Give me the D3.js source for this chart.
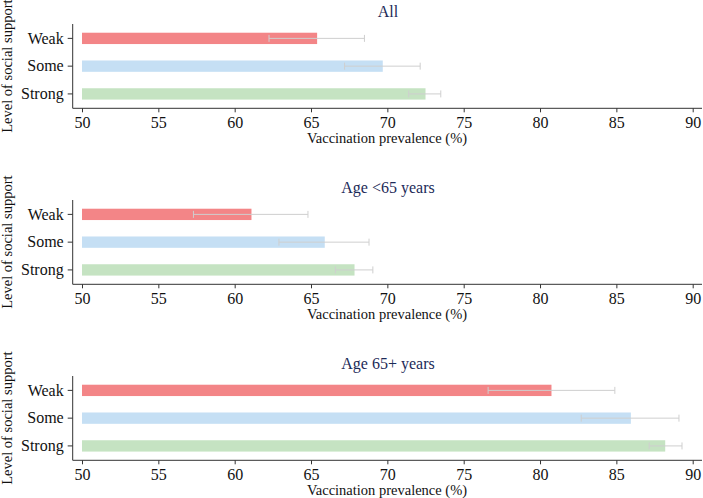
<!DOCTYPE html>
<html>
<head>
<meta charset="utf-8">
<script src="https://cdn.jsdelivr.net/npm/d3@7"></script>
<style>
  body { margin: 0; background: #fff; }
  svg { display: block; font-family: "Liberation Serif", "Times New Roman", serif; }
  svg text { font-family: "Liberation Serif", "Times New Roman", serif; }
</style>
</head>
<body>
<div id="chart"></div>
<script>
// support levels, top to bottom
let levels = ["Weak", "Some", "Strong"];
let panelTitles = ["All", "Age <65 years", "Age 65+ years"];

// prevalence (%) per panel, order = levels
let prevAll = [65.4, 69.7, 72.5];
let lowAll = [62.25, 67.2, 71.4];
let highAll = [68.5, 72.15, 73.5];

let prevUnder65 = [61.1, 65.9, 67.85];
let lowUnder65 = [57.3, 62.9, 66.6];
let highUnder65 = [64.8, 68.8, 69.05];

let prev65plus = [80.75, 85.95, 88.2];
let low65plus = [76.6, 82.7, 87.15];
let high65plus = [84.9, 89.1, 89.3];

let xTicks = [50, 55, 60, 65, 70, 75, 80, 85, 90];
let barColors = { Weak: "#f38587", Some: "#c5dff4", Strong: "#c5e3c2" };

let panels = [
  { title: panelTitles[0], prev: prevAll, low: lowAll, high: highAll, top: 24 },
  { title: panelTitles[1], prev: prevUnder65, low: lowUnder65, high: highUnder65, top: 200 },
  { title: panelTitles[2], prev: prev65plus, low: low65plus, high: high65plus, top: 376 }
];

let W = 703, H = 498;
let svg = d3.select("#chart").append("svg")
  .attr("width", W)
  .attr("height", H);

let axisLeft = 72.7, axisRight = 702;
let x = d3.scaleLinear().domain([50, 90]).range([82, 692.7]);
let plotH = 84.3;

panels.forEach(p => {
  let g = svg.append("g").attr("transform", "translate(0," + p.top + ")");

  let y = d3.scaleBand()
    .domain(levels)
    .range([0, plotH])
    .paddingInner(0.592)
    .paddingOuter(0.314);

  // title
  g.append("text")
    .attr("x", 388)
    .attr("y", -7)
    .attr("text-anchor", "middle")
    .attr("fill", "#1c2a58")
    .style("font-size", "16px")
    .text(p.title);

  let rows = levels.map((l, i) => ({ level: l, prev: p.prev[i], low: p.low[i], high: p.high[i] }));

  g.selectAll("rect.bar")
    .data(rows)
    .enter()
    .append("rect")
      .attr("class", "bar")
      .attr("x", x(50))
      .attr("y", d => y(d.level))
      .attr("width", d => x(d.prev) - x(50))
      .attr("height", y.bandwidth())
      .attr("fill", d => barColors[d.level]);

  let err = g.selectAll("g.err")
    .data(rows)
    .enter()
    .append("g")
      .attr("class", "err")
      .attr("stroke", "#cfcfcf")
      .attr("stroke-width", 1);

  err.append("line")
    .attr("x1", d => x(d.low))
    .attr("x2", d => x(d.high))
    .attr("y1", d => y(d.level) + y.bandwidth() / 2)
    .attr("y2", d => y(d.level) + y.bandwidth() / 2);
  err.append("line")
    .attr("x1", d => x(d.low)).attr("x2", d => x(d.low))
    .attr("y1", d => y(d.level) + y.bandwidth() / 2 - 3.5)
    .attr("y2", d => y(d.level) + y.bandwidth() / 2 + 3.5);
  err.append("line")
    .attr("x1", d => x(d.high)).attr("x2", d => x(d.high))
    .attr("y1", d => y(d.level) + y.bandwidth() / 2 - 3.5)
    .attr("y2", d => y(d.level) + y.bandwidth() / 2 + 3.5);

  // y axis
  let yAxis = g.append("g")
    .attr("transform", "translate(" + axisLeft + ",0)")
    .call(d3.axisLeft(y).tickSize(5).tickPadding(4));
  yAxis.attr("font-family", null);
  yAxis.select(".domain").attr("d", "M0,0V" + plotH);
  yAxis.selectAll("text").style("font-size", "16px").attr("fill", "#111");
  yAxis.selectAll("line, path").attr("stroke", "#333");

  // x axis
  let xAxis = g.append("g")
    .attr("transform", "translate(0," + plotH + ")")
    .call(d3.axisBottom(x).tickValues(xTicks).tickSize(4).tickPadding(4));
  xAxis.attr("font-family", null);
  xAxis.select(".domain").attr("d", "M" + axisLeft + ",0H" + axisRight);
  xAxis.selectAll("text").style("font-size", "16px").attr("fill", "#111");
  xAxis.selectAll("line, path").attr("stroke", "#333");

  g.append("text")
    .attr("x", 387)
    .attr("y", plotH + 35)
    .attr("text-anchor", "middle")
    .attr("fill", "#111")
    .style("font-size", "14.5px")
    .text("Vaccination prevalence (%)");

  g.append("text")
    .attr("transform", "translate(12," + (plotH / 2) + ") rotate(-90)")
    .attr("text-anchor", "middle")
    .attr("fill", "#111")
    .style("font-size", "14.5px")
    .text("Level of social support");
});
</script>
</body>
</html>
